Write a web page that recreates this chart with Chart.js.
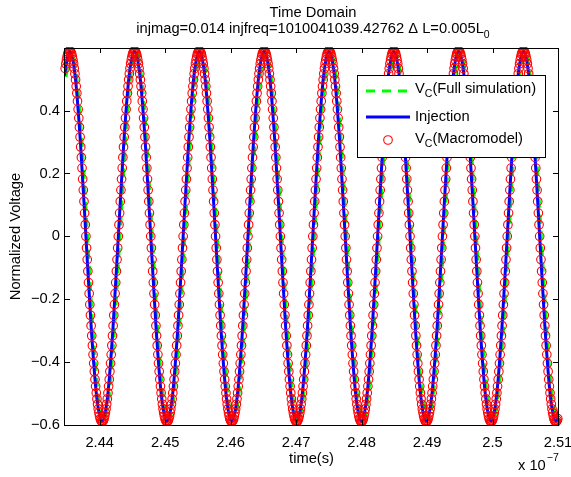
<!DOCTYPE html>
<html>
<head>
<meta charset="utf-8">
<script src="https://cdn.jsdelivr.net/npm/chart.js@4.4.0/dist/chart.umd.min.js"></script>
<style>
  html, body { margin: 0; padding: 0; background: #fff; }
  #wrap { width: 571px; height: 477px; }
</style>
</head>
<body>
<div id="wrap"><canvas id="myChart" width="571" height="477"></canvas></div>
<script>
// time axis is in units of 1e-7 s (the "x 10^-7" factor is printed under the axis)
var xTicks = [2.44, 2.45, 2.46, 2.47, 2.48, 2.49, 2.50, 2.51];
var xTickLabels = ['2.44', '2.45', '2.46', '2.47', '2.48', '2.49', '2.5', '2.51'];
var yTicks = [-0.6, -0.4, -0.2, 0, 0.2, 0.4];
var yTickLabels = ['\u22120.6', '\u22120.4', '\u22120.2', '0', '0.2', '0.4'];

// V_C macromodel samples (red circles), one every macroStep from macroStart
var macroStart = 2.434727;
var macroStep = 0.000099006;
var macroModel = [
0.534,0.549,0.561,0.571,0.580,0.585,0.589,
0.590,0.589,0.585,0.580,0.571,0.561,0.549,0.534,0.517,0.498,0.477,0.455,0.430,0.404,0.376,0.347,0.316,0.284,0.251,0.217,0.182,0.147,0.111,0.074,0.037,
0,-0.037,-0.074,-0.111,-0.147,-0.182,-0.217,-0.251,-0.284,-0.316,-0.347,-0.376,-0.404,-0.430,-0.455,-0.477,-0.498,-0.517,-0.534,-0.549,-0.561,-0.571,-0.580,-0.585,-0.589,
-0.590,-0.589,-0.585,-0.580,-0.571,-0.561,-0.549,-0.534,-0.517,-0.498,-0.477,-0.455,-0.430,-0.404,-0.376,-0.347,-0.316,-0.284,-0.251,-0.217,-0.182,-0.147,-0.111,-0.074,-0.037,
0,0.037,0.074,0.111,0.147,0.182,0.217,0.251,0.284,0.316,0.347,0.376,0.404,0.430,0.455,0.477,0.498,0.517,0.534,0.549,0.561,0.571,0.580,0.585,0.589,
0.590,0.589,0.585,0.580,0.571,0.561,0.549,0.534,0.517,0.498,0.477,0.455,0.430,0.404,0.376,0.347,0.316,0.284,0.251,0.217,0.182,0.147,0.111,0.074,0.037,
0,-0.037,-0.074,-0.111,-0.147,-0.182,-0.217,-0.251,-0.284,-0.316,-0.347,-0.376,-0.404,-0.430,-0.455,-0.477,-0.498,-0.517,-0.534,-0.549,-0.561,-0.571,-0.580,-0.585,-0.589,
-0.590,-0.589,-0.585,-0.580,-0.571,-0.561,-0.549,-0.534,-0.517,-0.498,-0.477,-0.455,-0.430,-0.404,-0.376,-0.347,-0.316,-0.284,-0.251,-0.217,-0.182,-0.147,-0.111,-0.074,-0.037,
0,0.037,0.074,0.111,0.147,0.182,0.217,0.251,0.284,0.316,0.347,0.376,0.404,0.430,0.455,0.477,0.498,0.517,0.534,0.549,0.561,0.571,0.580,0.585,0.589,
0.590,0.589,0.585,0.580,0.571,0.561,0.549,0.534,0.517,0.498,0.477,0.455,0.430,0.404,0.376,0.347,0.316,0.284,0.251,0.217,0.182,0.147,0.111,0.074,0.037,
0,-0.037,-0.074,-0.111,-0.147,-0.182,-0.217,-0.251,-0.284,-0.316,-0.347,-0.376,-0.404,-0.430,-0.455,-0.477,-0.498,-0.517,-0.534,-0.549,-0.561,-0.571,-0.580,-0.585,-0.589,
-0.590,-0.589,-0.585,-0.580,-0.571,-0.561,-0.549,-0.534,-0.517,-0.498,-0.477,-0.455,-0.430,-0.404,-0.376,-0.347,-0.316,-0.284,-0.251,-0.217,-0.182,-0.147,-0.111,-0.074,-0.037,
0,0.037,0.074,0.111,0.147,0.182,0.217,0.251,0.284,0.316,0.347,0.376,0.404,0.430,0.455,0.477,0.498,0.517,0.534,0.549,0.561,0.571,0.580,0.585,0.589,
0.590,0.589,0.585,0.580,0.571,0.561,0.549,0.534,0.517,0.498,0.477,0.455,0.430,0.404,0.376,0.347,0.316,0.284,0.251,0.217,0.182,0.147,0.111,0.074,0.037,
0,-0.037,-0.074,-0.111,-0.147,-0.182,-0.217,-0.251,-0.284,-0.316,-0.347,-0.376,-0.404,-0.430,-0.455,-0.477,-0.498,-0.517,-0.534,-0.549,-0.561,-0.571,-0.580,-0.585,-0.589,
-0.590,-0.589,-0.585,-0.580,-0.571,-0.561,-0.549,-0.534,-0.517,-0.498,-0.477,-0.455,-0.430,-0.404,-0.376,-0.347,-0.316,-0.284,-0.251,-0.217,-0.182,-0.147,-0.111,-0.074,-0.037,
0,0.037,0.074,0.111,0.147,0.182,0.217,0.251,0.284,0.316,0.347,0.376,0.404,0.430,0.455,0.477,0.498,0.517,0.534,0.549,0.561,0.571,0.580,0.585,0.589,
0.590,0.589,0.585,0.580,0.571,0.561,0.549,0.534,0.517,0.498,0.477,0.455,0.430,0.404,0.376,0.347,0.316,0.284,0.251,0.217,0.182,0.147,0.111,0.074,0.037,
0,-0.037,-0.074,-0.111,-0.147,-0.182,-0.217,-0.251,-0.284,-0.316,-0.347,-0.376,-0.404,-0.430,-0.455,-0.477,-0.498,-0.517,-0.534,-0.549,-0.561,-0.571,-0.580,-0.585,-0.589,
-0.590,-0.589,-0.585,-0.580,-0.571,-0.561,-0.549,-0.534,-0.517,-0.498,-0.477,-0.455,-0.430,-0.404,-0.376,-0.347,-0.316,-0.284,-0.251,-0.217,-0.182,-0.147,-0.111,-0.074,-0.037,
0,0.037,0.074,0.111,0.147,0.182,0.217,0.251,0.284,0.316,0.347,0.376,0.404,0.430,0.455,0.477,0.498,0.517,0.534,0.549,0.561,0.571,0.580,0.585,0.589,
0.590,0.589,0.585,0.580,0.571,0.561,0.549,0.534,0.517,0.498,0.477,0.455,0.430,0.404,0.376,0.347,0.316,0.284,0.251,0.217,0.182,0.147,0.111,0.074,0.037,
0,-0.037,-0.074,-0.111,-0.147,-0.182,-0.217,-0.251,-0.284,-0.316,-0.347,-0.376,-0.404,-0.430,-0.455,-0.477,-0.498,-0.517,-0.534,-0.549,-0.561,-0.571,-0.580,-0.585,-0.589,
-0.590,-0.589,-0.585,-0.580,-0.571,-0.561,-0.549,-0.534,-0.517,-0.498,-0.477,-0.455,-0.430,-0.404,-0.376,-0.347,-0.316,-0.284,-0.251,-0.217,-0.182,-0.147,-0.111,-0.074,-0.037,
0,0.037,0.074,0.111,0.147,0.182,0.217,0.251,0.284,0.316,0.347,0.376,0.404,0.430,0.455,0.477,0.498,0.517,0.534,0.549,0.561,0.571,0.580,0.585,0.589,
0.590,0.589,0.585,0.580,0.571,0.561,0.549,0.534,0.517,0.498,0.477,0.455,0.430,0.404,0.376,0.347,0.316,0.284,0.251,0.217,0.182,0.147,0.111,0.074,0.037,
0,-0.037,-0.074,-0.111,-0.147,-0.182,-0.217,-0.251,-0.284,-0.316,-0.347,-0.376,-0.404,-0.430,-0.455,-0.477,-0.498,-0.517,-0.534,-0.549,-0.561,-0.571,-0.580,-0.585,-0.589,
-0.590,-0.589,-0.585,-0.580,-0.571,-0.561,-0.549,-0.534,-0.517,-0.498,-0.477,-0.455,-0.430,-0.404,-0.376,-0.347,-0.316,-0.284,-0.251,-0.217,-0.182,-0.147,-0.111,-0.074,-0.037,
0,0.037,0.074,0.111,0.147,0.182,0.217,0.251,0.284,0.316,0.347,0.376,0.404,0.430,0.455,0.477,0.498,0.517,0.534,0.549,0.561,0.571,0.580,0.585,0.589,
0.590,0.589,0.585,0.580,0.571,0.561,0.549,0.534,0.517,0.498,0.477,0.455,0.430,0.404,0.376,0.347,0.316,0.284,0.251,0.217,0.182,0.147,0.111,0.074,0.037,
0,-0.037,-0.074,-0.111,-0.147,-0.182,-0.217,-0.251,-0.284,-0.316,-0.347,-0.376,-0.404,-0.430,-0.455,-0.477,-0.498,-0.517,-0.534,-0.549,-0.561,-0.571,-0.580,-0.585,-0.589,
-0.590,-0.589,-0.585,-0.580
];

// injection (blue) and full simulation (green), read every 30 degrees of the cycle
var lineStep = 0.00082505;
var injStart = 2.434595;
var injection = [0.511,
0.59,0.511,0.295,0,-0.295,-0.511,-0.59,-0.511,-0.295,0,0.295,0.511,
0.59,0.511,0.295,0,-0.295,-0.511,-0.59,-0.511,-0.295,0,0.295,0.511,
0.59,0.511,0.295,0,-0.295,-0.511,-0.59,-0.511,-0.295,0,0.295,0.511,
0.59,0.511,0.295,0,-0.295,-0.511,-0.59,-0.511,-0.295,0,0.295,0.511,
0.59,0.511,0.295,0,-0.295,-0.511,-0.59,-0.511,-0.295,0,0.295,0.511,
0.59,0.511,0.295,0,-0.295,-0.511,-0.59,-0.511,-0.295,0,0.295,0.511,
0.59,0.511,0.295,0,-0.295,-0.511,-0.59,-0.511,-0.295,0,0.295,0.511,
0.59,0.511,0.295,0,-0.295,-0.511,-0.59,-0.511];
var fullStart = 2.434845;
var fullSim = [0.507,
0.585,0.507,0.293,0,-0.293,-0.507,-0.585,-0.507,-0.293,0,0.293,0.507,
0.585,0.507,0.293,0,-0.293,-0.507,-0.585,-0.507,-0.293,0,0.293,0.507,
0.585,0.507,0.293,0,-0.293,-0.507,-0.585,-0.507,-0.293,0,0.293,0.507,
0.585,0.507,0.293,0,-0.293,-0.507,-0.585,-0.507,-0.293,0,0.293,0.507,
0.585,0.507,0.293,0,-0.293,-0.507,-0.585,-0.507,-0.293,0,0.293,0.507,
0.585,0.507,0.293,0,-0.293,-0.507,-0.585,-0.507,-0.293,0,0.293,0.507,
0.585,0.507,0.293,0,-0.293,-0.507,-0.585,-0.507,-0.293,0,0.293,0.507,
0.585,0.507,0.293,0,-0.293,-0.507,-0.585,-0.507];

var toPoints = (vals, start, step) => vals.map((v, i) => ({x: start + i * step, y: v}));

var FONT = '"Liberation Sans", Arial, sans-serif';
Chart.defaults.font.family = FONT;
Chart.defaults.font.size = 14.7;
Chart.defaults.color = '#000';

// V with a subscript C, followed by the rest of the label
function subText(ctx, x, y, main, sub, rest) {
    ctx.font = '14.7px ' + FONT;
    ctx.fillText(main, x, y);
    x += ctx.measureText(main).width;
    ctx.font = '10.5px ' + FONT;
    ctx.fillText(sub, x, y + 5);
    x += ctx.measureText(sub).width;
    ctx.font = '14.7px ' + FONT;
    ctx.fillText(rest, x, y);
}

var decor = {
  id: 'decor',
  afterDatasetsDraw(chart) {
    var ctx = chart.ctx, a = chart.chartArea, sx = chart.scales.x, sy = chart.scales.y;
    ctx.save();
    ctx.strokeStyle = '#000';
    ctx.lineWidth = 1;
    ctx.strokeRect(a.left - 0.5, a.top + 0.5, a.right - a.left + 1, a.bottom - a.top);
    ctx.beginPath();
    xTicks.forEach(v => {
        var p = Math.round(sx.getPixelForValue(v)) + 0.5;
        ctx.moveTo(p, a.bottom); ctx.lineTo(p, a.bottom - 5);
        ctx.moveTo(p, a.top); ctx.lineTo(p, a.top + 5);
    });
    yTicks.forEach(v => {
        var p = Math.round(sy.getPixelForValue(v)) + 0.5;
        ctx.moveTo(a.left, p); ctx.lineTo(a.left + 5, p);
        ctx.moveTo(a.right, p); ctx.lineTo(a.right - 5, p);
    });
    ctx.stroke();

    // legend
    var lx = 357, ly = 75, lw = 188, lh = 82;
    ctx.fillStyle = '#fff';
    ctx.fillRect(lx, ly, lw, lh);
    ctx.strokeRect(lx + 0.5, ly + 0.5, lw, lh);
    ctx.lineWidth = 3;
    ctx.strokeStyle = '#00ff00';
    ctx.setLineDash([9, 7]);
    ctx.beginPath(); ctx.moveTo(366, 91); ctx.lineTo(410, 91); ctx.stroke();
    ctx.setLineDash([]);
    ctx.strokeStyle = '#0000ff';
    ctx.beginPath(); ctx.moveTo(366, 117); ctx.lineTo(410, 117); ctx.stroke();
    ctx.lineWidth = 1.1;
    ctx.strokeStyle = '#ff0000';
    ctx.beginPath(); ctx.arc(388, 140, 4.3, 0, Math.PI * 2); ctx.stroke();
    ctx.fillStyle = '#000';
    ctx.textAlign = 'left';
    ctx.textBaseline = 'middle';
    subText(ctx, 415, 89, 'V', 'C', '(Full simulation)');
    ctx.fillText('Injection', 415, 117);
    subText(ctx, 415, 139, 'V', 'C', '(Macromodel)');
    ctx.restore();
  },
  afterDraw(chart) {
    var ctx = chart.ctx;
    ctx.save();
    ctx.fillStyle = '#000';
    ctx.textBaseline = 'middle';
    ctx.textAlign = 'center';
    ctx.font = '14.7px ' + FONT;
    ctx.fillText('Time Domain', 313, 13);
    var line2 = 'injmag=0.014 injfreq=1010041039.42762 \u0394 L=0.005L';
    var w1 = ctx.measureText(line2).width;
    ctx.font = '10.5px ' + FONT;
    var w2 = ctx.measureText('0').width;
    ctx.textAlign = 'left';
    var x0 = 313 - (w1 + w2) / 2;
    ctx.font = '14.7px ' + FONT;
    ctx.fillText(line2, x0, 29);
    ctx.font = '10.5px ' + FONT;
    ctx.fillText('0', x0 + w1, 35);
    // exponent of the time axis
    ctx.font = '14.7px ' + FONT;
    ctx.fillText('x 10', 518, 466);
    var w3 = ctx.measureText('x 10').width;
    ctx.font = '10.5px ' + FONT;
    ctx.fillText('\u22127', 518 + w3 + 1, 458);
    ctx.restore();
  }
};

const ctx = document.getElementById('myChart');
var chart = new Chart(ctx, {
  type: 'line',
  data: {
    datasets: [{
      label: 'VC(Macromodel)',
      data: toPoints(macroModel, macroStart, macroStep),
      showLine: false,
      pointRadius: 4.3,
      pointBorderWidth: 1.1,
      pointBorderColor: '#ff0000',
      pointBackgroundColor: 'rgba(0,0,0,0)',
      clip: {left: 5, right: 5, top: 1, bottom: 1},
      order: 1
    }, {
      label: 'Injection',
      data: toPoints(injection, injStart, lineStep),
      borderColor: '#0000ff',
      borderWidth: 3,
      pointRadius: 0,
      cubicInterpolationMode: 'monotone',
      order: 2
    }, {
      label: 'VC(Full simulation)',
      data: toPoints(fullSim, fullStart, lineStep),
      borderColor: '#00ff00',
      borderWidth: 3,
      borderDash: [9, 7],
      pointRadius: 0,
      cubicInterpolationMode: 'monotone',
      order: 3
    }]
  },
  options: {
    responsive: false,
    animation: false,
    devicePixelRatio: 1,
    layout: { padding: { left: 0, right: 13, top: 48, bottom: 0 } },
    plugins: { legend: { display: false }, tooltip: { enabled: false } },
    scales: {
      x: {
        type: 'linear',
        min: 2.4347,
        max: 2.51,
        grid: { display: false, drawTicks: false },
        border: { display: false },
        afterBuildTicks: s => { s.ticks = xTicks.map(v => ({value: v})); },
        ticks: { callback: (v, i) => xTickLabels[i], padding: 9, maxRotation: 0, autoSkip: false },
        title: { display: true, text: 'time(s)', padding: { top: 0, bottom: 9 } },
        afterFit: s => { s.height = 52; s.paddingLeft = 0; s.paddingRight = 0; }
      },
      y: {
        type: 'linear',
        min: -0.6,
        max: 0.599,
        grid: { display: false, drawTicks: false },
        border: { display: false },
        afterBuildTicks: s => { s.ticks = yTicks.map(v => ({value: v})); },
        ticks: { callback: (v, i) => yTickLabels[i], padding: 5, autoSkip: false },
        title: { display: true, text: 'Normalized Voltage', padding: { top: 7, bottom: 0 } },
        afterFit: s => { s.width = 65; s.paddingTop = 0; s.paddingBottom = 0; }
      }
    }
  },
  plugins: [decor]
});
</script>
</body>
</html>
